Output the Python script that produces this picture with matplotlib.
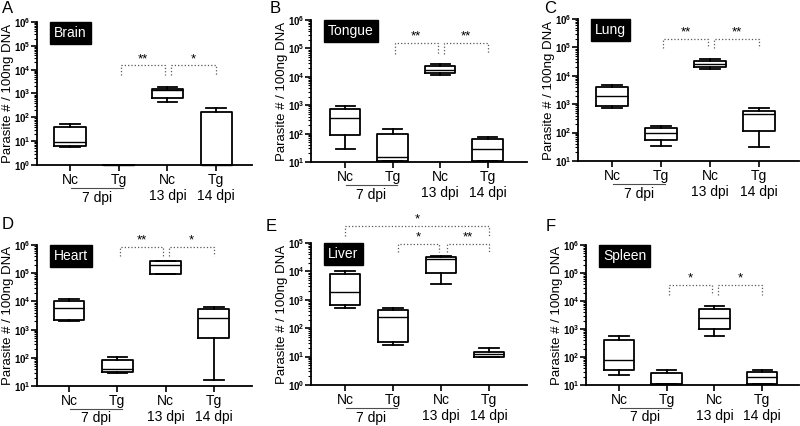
import numpy as np
import matplotlib
matplotlib.use("Agg")
import matplotlib.pyplot as plt
from matplotlib.ticker import FuncFormatter, LogLocator, NullFormatter

plt.rcParams["font.family"] = ["Liberation Sans", "DejaVu Sans"]
plt.rcParams["mathtext.fontset"] = "custom"
plt.rcParams["mathtext.rm"] = "Liberation Sans"
plt.rcParams["mathtext.bf"] = "Liberation Sans:bold"

# x categories
groups = ["Nc", "Tg", "Nc\n13 dpi", "Tg\n14 dpi"]
shared_day = "7 dpi"

# five-number summaries per group: [whisker low, q1, median, q3, whisker high]
brain = [[5.5, 6, 9, 38, 53], [1.0, 1.0, 1.02, 1.04, 1.04],
         [455, 665, 1400, 1550, 1900], [1.0, 1.0, 1.02, 165, 250]]
tongue = [[28, 87, 355, 760, 920], [10.5, 10.7, 15, 100, 142],
          [12000, 14000, 18000, 24000, 28000], [10.5, 10.8, 28, 62, 76]]
lung = [[710, 890, 1950, 3900, 4800], [35, 54, 93, 144, 173],
        [17000, 20000, 26000, 34000, 38000], [30, 112, 450, 590, 710]]
heart = [[2100, 2200, 5700, 10300, 12000], [28, 31, 41, 83, 103],
         [92000, 92000, 195000, 280000, 280000], [16, 490, 2500, 5400, 6500]]
liver = [[510, 630, 1870, 7800, 10000], [26, 32, 240, 420, 500],
         [3600, 8700, 27000, 31000, 34000], [10, 10, 12, 14.6, 20]]
spleen = [[23, 35, 79, 405, 550], [10.5, 10.5, 10.5, 27, 34],
          [580, 1000, 2460, 5100, 6800], [10.5, 10.5, 20, 29, 33]]

# significance brackets: (x1, x2, y top, y leg end, stars)
brain_sig = [(1.05, 1.95, 1.5e4, 6e3, "**"), (2.08, 3.0, 1.5e4, 6e3, "*")]
tongue_sig = [(1.05, 1.95, 1.5e5, 6.6e4, "**"), (2.08, 3.0, 1.5e5, 6.6e4, "**")]
lung_sig = [(1.05, 1.95, 1.9e5, 9.4e4, "**"), (2.08, 3.0, 1.9e5, 9.4e4, "**")]
heart_sig = [(1.05, 1.95, 8.7e5, 4.1e5, "**"), (2.08, 3.0, 8.7e5, 4.1e5, "*")]
liver_sig = [(0.0, 3.0, 3.9e5, 1.7e5, "*"), (1.1, 1.95, 9.5e4, 4.7e4, "*"),
             (2.12, 3.0, 9.5e4, 4.7e4, "**")]
spleen_sig = [(1.05, 1.95, 3.7e4, 1.7e4, "*"), (2.08, 3.0, 3.7e4, 1.7e4, "*")]

W, H = 800, 426

panels = [
    # letter, tissue, stats, sig, ylim, axes px (left, right, top, bottom),
    # first category px and category spacing px, letter px
    ("A", "Brain", brain, brain_sig, (1, 1e6), (37, 252, 22, 165), (70, 48.7), (2, 1)),
    ("B", "Tongue", tongue, tongue_sig, (10, 1e6), (311, 527, 20, 162), (345, 47.5), (270, 1)),
    ("C", "Lung", lung, lung_sig, (10, 1e6), (578, 799, 19, 161), (612, 49), (544, 1)),
    ("D", "Heart", heart, heart_sig, (10, 1e6), (37, 252, 245, 386), (69, 48.3), (2, 217)),
    ("E", "Liver", liver, liver_sig, (1, 1e5), (311, 527, 243, 385), (345, 48), (266, 219)),
    ("F", "Spleen", spleen, spleen_sig, (10, 1e6), (586, 799, 245, 385), (619, 47.7), (546, 219)),
]


def _log_fmt(v, pos):
    e = int(round(np.log10(v)))
    return r"$\mathbf{10^{%d}}$" % e


fig = plt.figure(figsize=(W / 100, H / 100), dpi=100)

for letter, tissue, stats, sig, ylim, (l, r, t, b), (x0, sp), (lx, ly) in panels:
    ax = fig.add_axes([l / W, 1 - b / H, (r - l) / W, (b - t) / H])
    bx = [dict(whislo=s[0], q1=s[1], med=s[2], q3=s[3], whishi=s[4], label=g)
          for s, g in zip(stats, groups)]
    arts = ax.bxp(bx, positions=range(4), widths=0.64, capwidths=0.4, showfliers=False,
                  boxprops=dict(color="black", lw=1.3),
                  whiskerprops=dict(color="black", lw=1.3),
                  capprops=dict(color="black", lw=1.3),
                  medianprops=dict(color="black", lw=1.0))
    for key in arts:
        for a in arts[key]:
            a.set_clip_on(False)
    ax.set_yscale("log")
    ax.set_ylim(*ylim)
    ax.set_xlim(-(x0 - l) / sp, (r - x0) / sp)
    ax.yaxis.set_major_locator(LogLocator(base=10, numticks=10))
    ax.yaxis.set_minor_locator(LogLocator(base=10, subs=np.arange(2, 10), numticks=10))
    ax.yaxis.set_major_formatter(FuncFormatter(_log_fmt))
    ax.yaxis.set_minor_formatter(NullFormatter())
    ax.set_xticks(range(4))
    ax.set_xticklabels(groups, fontsize=10, linespacing=1.15)
    ax.tick_params(axis="y", which="major", labelsize=7, length=4, width=1.2, pad=0.5)
    ax.tick_params(axis="y", which="minor", length=2.2, width=0.8)
    ax.tick_params(axis="x", length=4, width=1.2, pad=2)
    for side in ("top", "right"):
        ax.spines[side].set_visible(False)
    for side in ("left", "bottom"):
        ax.spines[side].set_linewidth(1.3)
    ax.set_ylabel("Parasite # / 100ng DNA", fontsize=9.5)
    ax.yaxis.set_label_coords(-23 / (r - l), 0.5)

    # shared "7 dpi" group label under the first two categories
    xt = ax.get_xaxis_transform()
    ax.plot([0.02, 1.09], [-0.162, -0.162], transform=xt, color="0.3", lw=0.8, clip_on=False)
    ax.text(0.55, -0.18, shared_day, transform=xt, ha="center", va="top", fontsize=10)

    # tissue name tag
    ax.annotate(tissue, xy=(12 / (r - l), 1), xycoords="axes fraction",
                xytext=(5, -4), textcoords="offset pixels", ha="left", va="top",
                color="white", fontsize=10,
                bbox=dict(boxstyle="square,pad=0.3", fc="black", ec="black"))

    # significance brackets
    for x1, x2, ytop, yleg, stars in sig:
        ax.plot([x1, x1, x2, x2], [yleg, ytop, ytop, yleg], ls=":", color="0.35",
                lw=0.9, clip_on=False)
        ax.text((x1 + x2) / 2, ytop * 1.05, stars, ha="center", va="bottom",
                fontsize=9.5, clip_on=False)

    fig.text(lx / W, 1 - ly / H, letter, ha="left", va="top", fontsize=12)

fig.savefig("out.png", dpi=100)
